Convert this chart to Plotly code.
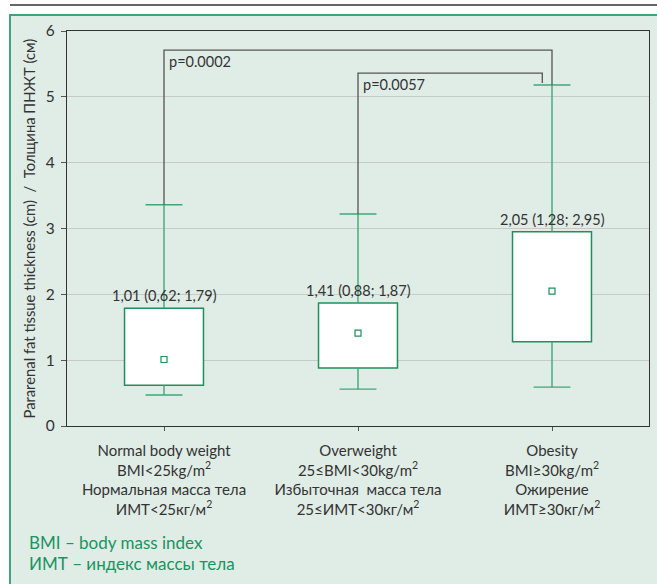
import plotly.graph_objects as go

# ---- data ----
cat_lines_en = ["Normal body weight", "Overweight", "Obesity"]
cat_lines_bmi = ["BMI<25kg/m<sup>2</sup>", "25≤BMI<30kg/m<sup>2</sup>", "BMI≥30kg/m<sup>2</sup>"]
cat_lines_ru = ["Нормальная масса тела", "Избыточная  масса тела", "Ожирение"]
cat_lines_imt = ["ИМТ<25кг/м<sup>2</sup>", "25≤ИМТ<30кг/м<sup>2</sup>", "ИМТ≥30кг/м<sup>2</sup>"]
medians = [1.01, 1.41, 2.05]
q1 = [0.62, 0.88, 1.28]
q3 = [1.79, 1.87, 2.95]
whisker_low = [0.47, 0.56, 0.59]
whisker_high = [3.36, 3.22, 5.18]
p_values = ["p=0.0002", "p=0.0057"]
p_pairs = [(0, 2), (1, 2)]
p_levels = [5.71, 5.36]
y_ticks = [0, 1, 2, 3, 4, 5, 6]
y_title = "Pararenal fat tissue thickness (cm)  /  Толщина ПНЖТ (см)"
footnotes = ["BMI – body mass index", "ИМТ – индекс массы тела"]

FONT = "Lato"
GREEN = "#1f8f5f"
WHISK = "#3fa877"
TXT = "#333333"

xpos = list(range(len(medians)))
ticktext = [f"{a}<br>{b}<br>{c}<br>{d}" for a, b, c, d in zip(cat_lines_en, cat_lines_bmi, cat_lines_ru, cat_lines_imt)]

BOX_W = 0.407
CAP_HALF = 0.095

fig = go.Figure()

# whiskers (vertical stems + caps)
wx, wy = [], []
for x, lo, a, b, hi in zip(xpos, whisker_low, q1, q3, whisker_high):
    wx += [x, x, None, x, x, None, x - CAP_HALF, x + CAP_HALF, None, x - CAP_HALF, x + CAP_HALF, None]
    wy += [lo, a, None, b, hi, None, lo, lo, None, hi, hi, None]
fig.add_trace(go.Scatter(x=wx, y=wy, mode="lines", line=dict(color=WHISK, width=1.4),
                         showlegend=False, hoverinfo="skip"))

# significance brackets
for i, ((a, b), lvl, ptxt) in enumerate(zip(p_pairs, p_levels, p_values)):
    if i == 0:
        bx = [a, a, b, b]
        by = [whisker_high[a], lvl, lvl, whisker_high[b]]
    else:
        bx = [a, a, b - 0.05, b - 0.05]
        by = [whisker_high[a], lvl, lvl, lvl - 0.15]
    fig.add_trace(go.Scatter(x=bx, y=by, mode="lines",
                             line=dict(color="#555555", width=1.3),
                             showlegend=False, hoverinfo="skip"))
    fig.add_annotation(x=a, y=lvl, text=ptxt, showarrow=False,
                       xanchor="left", yanchor="top", xshift=3, yshift=-1,
                       font=dict(family=FONT, size=14.5, color=TXT))

# boxes (interquartile range)
fig.add_trace(go.Bar(
    x=xpos, y=[b - a for a, b in zip(q1, q3)], base=q1, width=BOX_W,
    marker=dict(color="white", line=dict(color=GREEN, width=1.5)),
    showlegend=False, hoverinfo="skip",
))

# medians
fig.add_trace(go.Scatter(
    x=xpos, y=medians, mode="markers",
    marker=dict(symbol="square", size=6, color="white", line=dict(color=GREEN, width=1.2)),
    showlegend=False, hoverinfo="skip",
))

# value labels
for x, m, a, b in zip(xpos, medians, q1, q3):
    label = f"{m:.2f} ({a:.2f}; {b:.2f})".replace(".", ",")
    fig.add_annotation(x=x, y=b, text=label, showarrow=False,
                       xanchor="center", yanchor="bottom", yshift=2,
                       font=dict(family=FONT, size=14.5, color=TXT))

# pixel helpers: plot area x 67..649, y 31..426
def px(v):
    return (v - 67) / 582.0

def py(v):
    return (426 - v) / 395.0

# panel background & frame
fig.add_shape(type="rect", xref="paper", yref="paper",
              x0=px(10), x1=px(670), y0=py(600), y1=py(15),
              fillcolor="#e0ece6", line=dict(color="#3aa779", width=2), layer="below")
fig.add_shape(type="line", xref="paper", yref="paper",
              x0=px(10), x1=px(660), y0=py(5), y1=py(5),
              line=dict(color="#333333", width=1.5))

# y title
fig.add_annotation(xref="paper", yref="paper", x=px(28), y=0.5, text=y_title,
                   textangle=-90, showarrow=False, xanchor="center", yanchor="middle",
                   font=dict(family=FONT, size=14.8, color=TXT))

# footnotes
for i, t in enumerate(footnotes):
    fig.add_annotation(xref="paper", yref="paper", x=px(27), y=py(542 + 21 * i), text=t,
                       showarrow=False, xanchor="left", yanchor="middle",
                       font=dict(family=FONT, size=17, color="#1a9460"))

fig.update_layout(
    width=657, height=584,
    margin=dict(l=67, r=8, t=31, b=158),
    paper_bgcolor="white", plot_bgcolor="rgba(0,0,0,0)",
    font=dict(family=FONT, size=14, color=TXT),
    showlegend=False,
)
fig.update_xaxes(range=[-0.5, 2.5], tickvals=xpos, ticktext=ticktext,
                 showgrid=False, zeroline=False, showline=True, mirror=True,
                 linecolor="#333333", linewidth=1.2, ticks="outside", ticklen=4,
                 ticklabelstandoff=7,
                 tickcolor="#555555", tickfont=dict(family=FONT, size=15, color=TXT))
fig.update_yaxes(range=[0, 6], tickvals=y_ticks, showgrid=True, gridcolor="#c6cac8",
                 gridwidth=1, zeroline=False, showline=True, mirror=True,
                 linecolor="#333333", linewidth=1.2, ticks="outside", ticklen=5,
                 ticklabelstandoff=3,
                 tickcolor="#555555", tickfont=dict(family=FONT, size=15.5, color=TXT))

fig.write_html("out.html", config={"displayModeBar": False},
               post_script="document.body.style.margin='0px';")
